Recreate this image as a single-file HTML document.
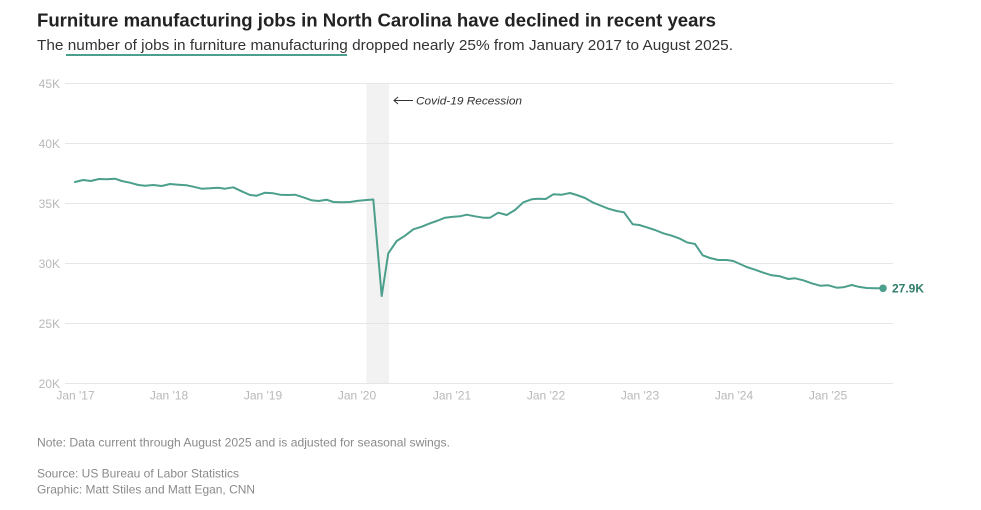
<!DOCTYPE html>
<html><head><meta charset="utf-8"><style>
html,body{margin:0;padding:0;background:#fff;}
svg{display:block;}
text{font-family:"Liberation Sans",Arial,sans-serif;}
</style></head><body>
<svg width="981" height="510" viewBox="0 0 981 510" xmlns="http://www.w3.org/2000/svg">
<rect width="981" height="510" fill="#fff"/>
<text x="37" y="26.5" font-size="18" font-weight="bold" fill="#222" textLength="679" lengthAdjust="spacingAndGlyphs">Furniture manufacturing jobs in North Carolina have declined in recent years</text>
<text x="37" y="50" font-size="15" fill="#333" textLength="696" lengthAdjust="spacingAndGlyphs">The number of jobs in furniture manufacturing dropped nearly 25% from January 2017 to August 2025.</text>
<rect x="66" y="54" width="281" height="2" fill="#4b9f8c"/>

<!-- recession band -->
<rect x="366.5" y="83" width="22.5" height="300" fill="#f2f2f2"/>

<!-- gridlines -->
<g stroke="#e6e6e6" stroke-width="1">
<line x1="65" x2="893" y1="83.5" y2="83.5"/>
<line x1="65" x2="893" y1="143.5" y2="143.5"/>
<line x1="65" x2="893" y1="203.5" y2="203.5"/>
<line x1="65" x2="893" y1="263.5" y2="263.5"/>
<line x1="65" x2="893" y1="323.5" y2="323.5"/>
<line x1="65" x2="893" y1="383.5" y2="383.5"/>
</g>

<g font-size="12" fill="#b8b8b8" text-anchor="end">
<text x="60" y="88">45K</text>
<text x="60" y="148">40K</text>
<text x="60" y="208">35K</text>
<text x="60" y="268">30K</text>
<text x="60" y="328">25K</text>
<text x="60" y="388">20K</text>
</g>

<g font-size="12" fill="#b8b8b8" text-anchor="middle">
<text x="75.5" y="399.5">Jan '17</text>
<text x="169" y="399.5">Jan '18</text>
<text x="263" y="399.5">Jan '19</text>
<text x="357" y="399.5">Jan '20</text>
<text x="452" y="399.5">Jan '21</text>
<text x="546" y="399.5">Jan '22</text>
<text x="640" y="399.5">Jan '23</text>
<text x="734" y="399.5">Jan '24</text>
<text x="828" y="399.5">Jan '25</text>
</g>

<!-- annotation -->
<g stroke="#333" stroke-width="1" fill="none">
<line x1="394" y1="100.5" x2="413" y2="100.5"/>
<polyline points="398,97 394,100.5 398,104"/>
</g>
<text x="416" y="104.5" font-size="11" font-style="italic" fill="#333" textLength="106" lengthAdjust="spacingAndGlyphs">Covid-19 Recession</text>

<!-- series -->
<polyline fill="none" stroke="#4b9f8c" stroke-width="2" stroke-linejoin="round" stroke-linecap="round" points="75,182 83.3,180 90.7,181 99,179 106.7,179.3 115,178.7 121.7,181 130,182.7 138.3,185 145,185.7 153.3,185 161.7,186 170,184 178.3,184.7 186.7,185.3 193.3,186.7 201.7,188.7 210,188.3 218.3,187.7 225,188.7 233.3,187.3 241.7,191.3 250,195 256.7,195.7 265,192.7 273.3,193.3 280,194.7 288.3,195 295,194.7 303.3,197.3 311.7,200.3 318.3,201 326.7,199.7 333.3,202 341.7,202.3 350,202 358.3,200.7 366.7,200 373.3,199.5 381.7,296 388.3,253.3 396.7,241 405,235.7 413.3,229.3 421.7,226.7 430,223.3 436.7,221 445,217.7 453.3,216.7 460,216.3 466.7,214.7 475,216.3 483.3,217.7 490,217.7 498.3,212.7 506.7,215 515,210 523.3,202.3 531.7,199.3 538.3,198.7 545.7,199 553.3,194.3 561.7,194.7 570,193 576.7,195 585,198 593.3,202.7 601.7,206 608.3,208.7 616.7,211 624,212.3 632.7,224.3 639.3,225 646.7,227.3 655,230 663.3,233.3 671.7,235.7 680,238.7 686.7,242.3 695,244 702.7,255.3 710,258 718.3,260 726.7,260 733.3,261 740,264 746.7,267 755,269.7 763.3,272.7 771.7,275.3 780,276.3 788.3,279 795,278.3 803.3,280.3 811.7,283.3 820,285.7 828.3,285.3 836.7,287.7 843.3,287.3 851.7,285 858.3,286.7 866.7,288 875,288.3 883.3,288.3"/>
<circle cx="883" cy="288.3" r="3.8" fill="#4b9f8c"/>
<text x="892" y="292.5" font-size="12" font-weight="bold" fill="#2f7d6b" textLength="32" lengthAdjust="spacingAndGlyphs">27.9K</text>

<!-- footer -->
<g font-size="12" fill="#8a8a8a">
<text x="37" y="446.5" textLength="413" lengthAdjust="spacingAndGlyphs">Note: Data current through August 2025 and is adjusted for seasonal swings.</text>
<text x="37" y="477.5" textLength="202" lengthAdjust="spacingAndGlyphs">Source: US Bureau of Labor Statistics</text>
<text x="37" y="493.5" textLength="218" lengthAdjust="spacingAndGlyphs">Graphic: Matt Stiles and Matt Egan, CNN</text>
</g>
</svg>
</body></html>
